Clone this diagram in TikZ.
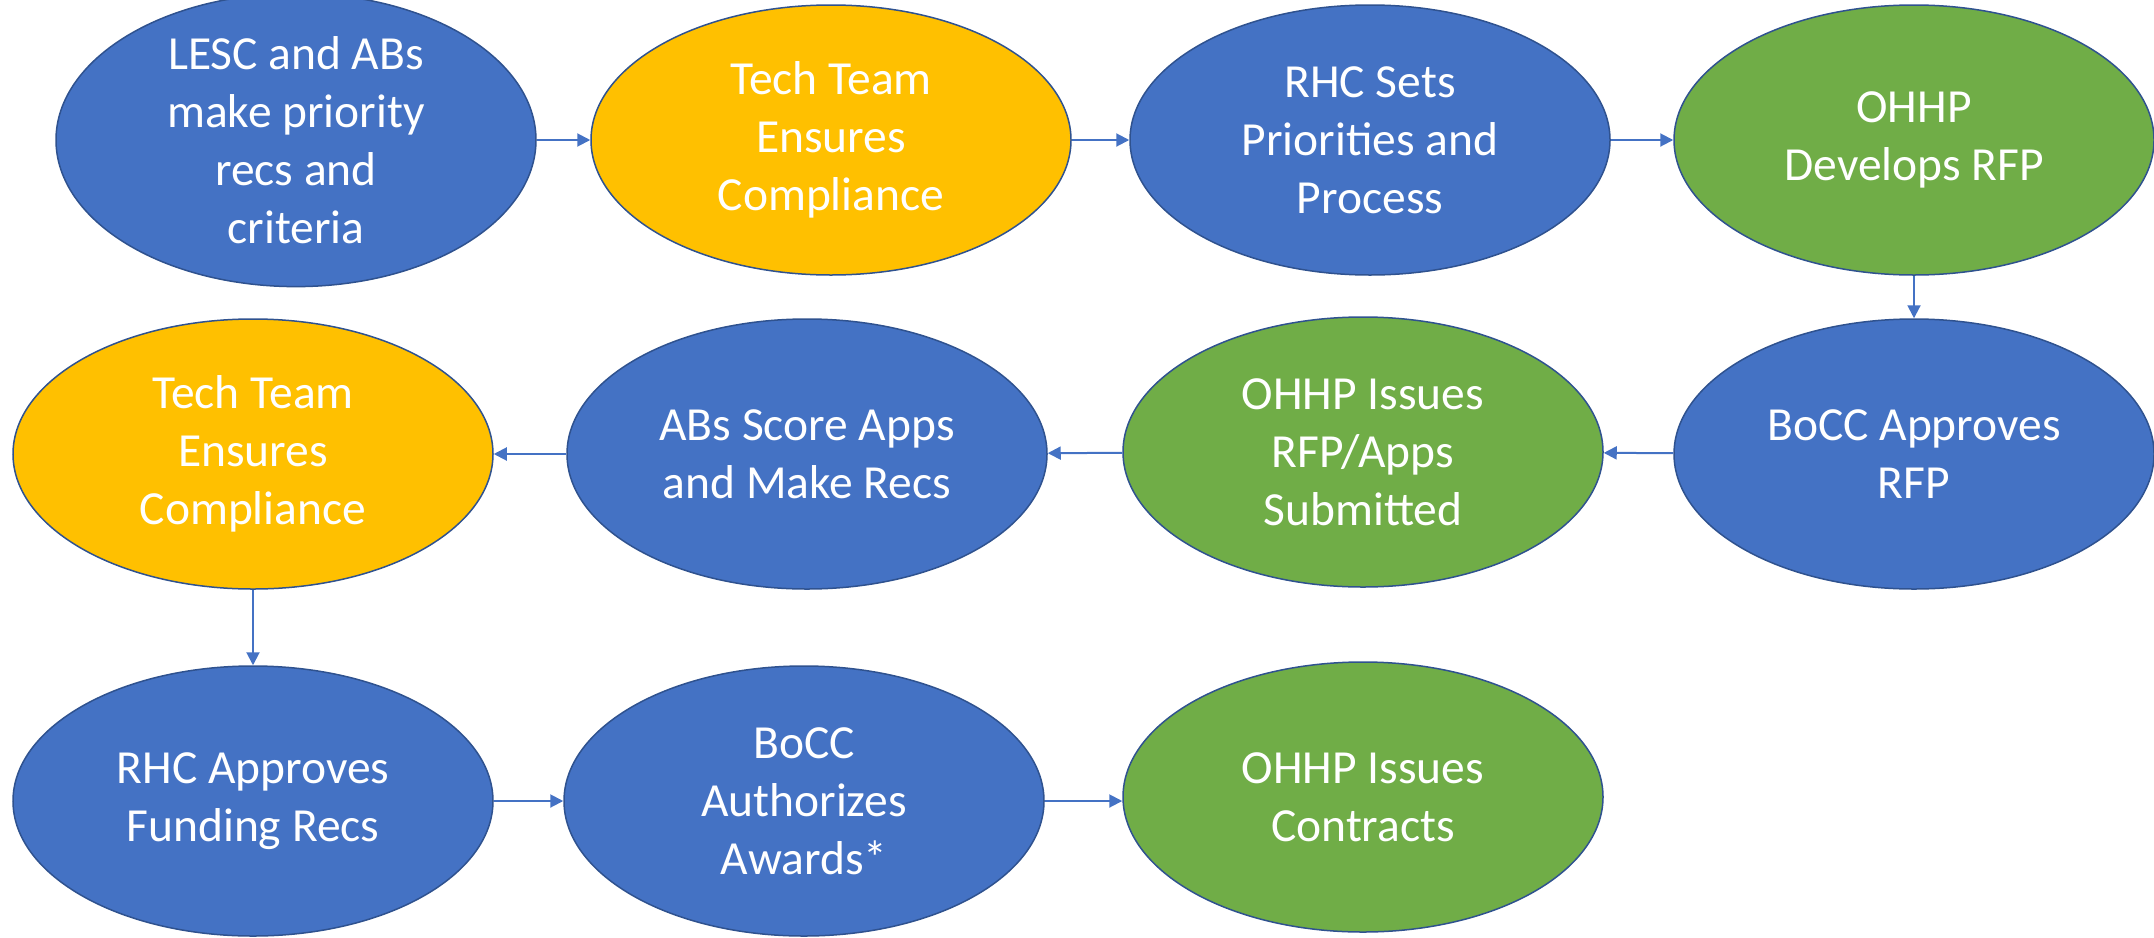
\documentclass[tikz,border=0pt]{standalone}
\usepackage{fontspec}
\setmainfont{Carlito}
\usetikzlibrary{shapes.geometric,arrows.meta}
\definecolor{cblue}{HTML}{4472C4}
\definecolor{cyellow}{HTML}{FFC000}
\definecolor{cgreen}{HTML}{70AD47}
\definecolor{cborder}{HTML}{2F528F}
\tikzset{
  oval/.style={ellipse, draw=cborder, line width=1.5pt, minimum width=480pt, minimum height=270pt, inner sep=0pt,
    text=white, align=center, font=\fontsize{47.5}{58}\selectfont},
  bluebox/.style={oval, fill=cblue},
  yellowbox/.style={oval, fill=cyellow},
  greenbox/.style={oval, fill=cgreen},
  flow/.style={draw=cblue, line width=2pt, -{Triangle[length=13pt,width=13pt]}}
}
\begin{document}
\begin{tikzpicture}[x=1pt,y=-1pt]
\useasboundingbox (0,0) rectangle (2154,937);
\node[bluebox] (a1) at (296,140) {LESC and ABs\\make priority\\recs and\\criteria};
\node[yellowbox] (a2) at (831,140) {Tech Team\\Ensures\\Compliance};
\node[bluebox] (a3) at (1370,140) {RHC Sets\\Priorities and\\Process};
\node[greenbox] (a4) at (1914,140) {OHHP\\Develops RFP};
\node[bluebox] (b4) at (1914,454) {BoCC Approves\\RFP};
\node[greenbox] (b3) at (1363,452) {OHHP Issues\\RFP/Apps\\Submitted};
\node[bluebox] (b2) at (807,454) {ABs Score Apps\\and Make Recs};
\node[yellowbox] (b1) at (253,454) {Tech Team\\Ensures\\Compliance};
\node[bluebox] (c1) at (253,801) {RHC Approves\\Funding Recs};
\node[bluebox] (c2) at (804,801) {BoCC\\Authorizes\\Awards*};
\node[greenbox] (c3) at (1363,797) {OHHP Issues\\Contracts};
\draw[flow] (a1) -- (a2);
\draw[flow] (a2) -- (a3);
\draw[flow] (a3) -- (a4);
\draw[flow] (a4) -- (b4);
\draw[flow] (b4) -- (b3);
\draw[flow] (b3) -- (b2);
\draw[flow] (b2) -- (b1);
\draw[flow] (b1) -- (c1);
\draw[flow] (c1) -- (c2);
\draw[flow] (c2.east) -- (c3.west |- c2.east);
\end{tikzpicture}
\end{document}
